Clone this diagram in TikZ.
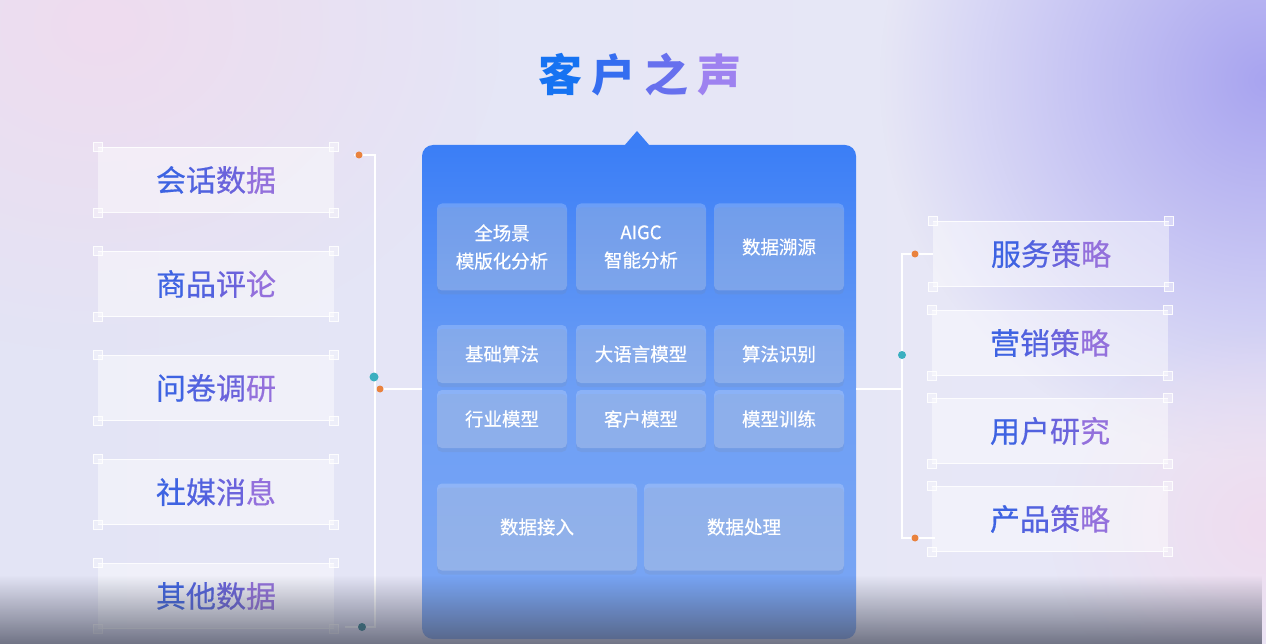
\documentclass[tikz,border=0pt]{standalone}
\usepackage{fontspec}
\newfontfamily\cjk{Noto Sans CJK SC}
\newfontfamily\cjkm[FakeBold=0.5]{Noto Sans CJK SC}
\usetikzlibrary{fadings,shadows}
\tikzfading[name=softfade, inner color=transparent!0, outer color=transparent!100]
\definecolor{bgA}{HTML}{E3E4F5}
\definecolor{bgB}{HTML}{E8E8F7}
\definecolor{pinkblob}{HTML}{EFDCEF}
\definecolor{purpblob}{HTML}{A8A4F0}
\definecolor{panelT}{HTML}{3B7EF6}
\definecolor{panelM}{HTML}{6E9FF5}
\definecolor{panelB}{HTML}{7AA6F4}
\definecolor{dotO}{HTML}{E9823E}
\definecolor{dotT}{HTML}{3AAFC0}
\definecolor{gA}{HTML}{3E63E2}
\definecolor{gB}{HTML}{5262DF}
\definecolor{gC}{HTML}{6A63DC}
\definecolor{gD}{HTML}{9370DC}
\definecolor{tA}{HTML}{1673F2}
\definecolor{tB}{HTML}{356DF0}
\definecolor{tC}{HTML}{6770EE}
\definecolor{tD}{HTML}{9E82F0}
\definecolor{darkbot}{HTML}{4A4E60}
\newcommand\gfour[4]{{\color{gA}#1\color{gB}#2\color{gC}#3\color{gD}#4}}
\begin{document}
\begin{tikzpicture}[x=1pt,y=-1pt,
  sidebox/.style={minimum width=236pt, minimum height=65pt, inner sep=0pt,
    fill=white, fill opacity=0.45, text opacity=1,
    font=\cjkm\fontsize{30}{36}\selectfont},
  corner/.style={minimum size=9pt, inner sep=0pt, draw=white, line width=0.8pt,
    fill=white, fill opacity=0.35, draw opacity=0.9},
  edge/.style={draw=white, line width=1.2pt, opacity=0.9},
  inbox/.style={inner sep=0pt, fill=white, fill opacity=0.2, text opacity=1,
    rounded corners=5pt, text=white, align=center,
    font=\cjkm\fontsize{18.5}{28}\selectfont,
    drop shadow={opacity=0.12, shadow xshift=0pt, shadow yshift=-4pt}},
  conn/.style={draw=white, line width=1.6pt},
  dot/.style={circle, inner sep=0pt, minimum size=#1},
]
\useasboundingbox (0,0) rectangle (1266,644);
% background
\shade[left color=bgA, right color=bgB] (0,0) rectangle (1266,644);
\fill[pinkblob, path fading=softfade] (-300,-300) rectangle (500,350);
\fill[purpblob, path fading=softfade] (880,-300) rectangle (1650,460);
\fill[pinkblob, path fading=softfade] (1050,330) rectangle (1480,720);
% title
\node (title) at (640,75) {\cjk\bfseries\fontsize{44}{50}\selectfont
  \color{tA}客\hspace{9pt}\color{tB}户\hspace{9pt}\color{tC}之\hspace{9pt}\color{tD}声};
% panel
\shade[top color=panelT, bottom color=panelB, middle color=panelM, rounded corners=11pt] (422,145) rectangle (856,639);
\fill[panelT] (624,146) -- (637,131) -- (650,146) -- cycle;
\node[inbox, minimum width=130pt, minimum height=87pt] (p1) at (502,247) {全场景\\模版化分析};
\node[inbox, minimum width=130pt, minimum height=87pt] (p2) at (641,247) {AIGC\\智能分析};
\node[inbox, minimum width=130pt, minimum height=87pt] (p3) at (779,247) {数据溯源};
\node[inbox, minimum width=130pt, minimum height=58pt] (p4) at (502,354) {基础算法};
\node[inbox, minimum width=130pt, minimum height=58pt] (p5) at (641,354) {大语言模型};
\node[inbox, minimum width=130pt, minimum height=58pt] (p6) at (779,354) {算法识别};
\node[inbox, minimum width=130pt, minimum height=58pt] (p7) at (502,419) {行业模型};
\node[inbox, minimum width=130pt, minimum height=58pt] (p8) at (641,419) {客户模型};
\node[inbox, minimum width=130pt, minimum height=58pt] (p9) at (779,419) {模型训练};
\node[inbox, minimum width=200pt, minimum height=87pt] (p10) at (537,527) {数据接入};
\node[inbox, minimum width=200pt, minimum height=87pt] (p11) at (744,527) {数据处理};
% left boxes
\node[sidebox] (l1) at (216,180) {\gfour 会话数据};
\node[sidebox] (l2) at (216,284) {\gfour 商品评论};
\node[sidebox] (l3) at (216,388) {\gfour 问卷调研};
\node[sidebox] (l4) at (216,492) {\gfour 社媒消息};
\node[sidebox] (l5) at (216,596) {\gfour 其他数据};
% right boxes
\node[sidebox] (r1) at (1051,254) {\gfour 服务策略};
\node[sidebox] (r2) at (1050,343) {\gfour 营销策略};
\node[sidebox] (r3) at (1050,431) {\gfour 用户研究};
\node[sidebox] (r4) at (1050,519) {\gfour 产品策略};
\foreach \b in {l1,l2,l3,l4,l5,r1,r2,r3,r4}{
  \draw[edge] (\b.north west) -- (\b.north east);
  \draw[edge] (\b.south west) -- (\b.south east);
  \foreach \c in {north west,north east,south west,south east}
    \node[corner] at (\b.\c) {};
}
% left bracket
\coordinate (lt) at (375,155);
\coordinate (lb) at (375,627);
\coordinate (lm) at (375,389);
\coordinate (le1) at (354,155);
\coordinate (le5) at (345,627);
\draw[conn] (le1) -- (lt) -- (lb) -- (le5);
\draw[conn] (lm) -- (422,389);
\node[dot=7pt, fill=dotO] (d1) at (359,155) {};
\node[dot=9pt, fill=dotT] (d2) at (374,377) {};
\node[dot=7pt, fill=dotO] (d3) at (380,389) {};
\node[dot=8pt, fill=dotT!70!black] (d4) at (362,627) {};
% right bracket
\coordinate (rt) at (902,254);
\coordinate (rb) at (902,538);
\coordinate (rm) at (902,389);
\coordinate (re4) at (935,538);
\draw[conn] (r1.west) -- (rt) -- (rb) -- (re4);
\draw[conn] (856,389) -- (rm);
\node[dot=7pt, fill=dotO] (d5) at (915,254) {};
\node[dot=8pt, fill=dotT] (d6) at (902,355) {};
\node[dot=7pt, fill=dotO] (d7) at (915,538) {};
% bottom darkening
\fill[darkbot, fill opacity=0.75, path fading=north] (0,575) rectangle (1266,644);
\end{tikzpicture}
\end{document}
